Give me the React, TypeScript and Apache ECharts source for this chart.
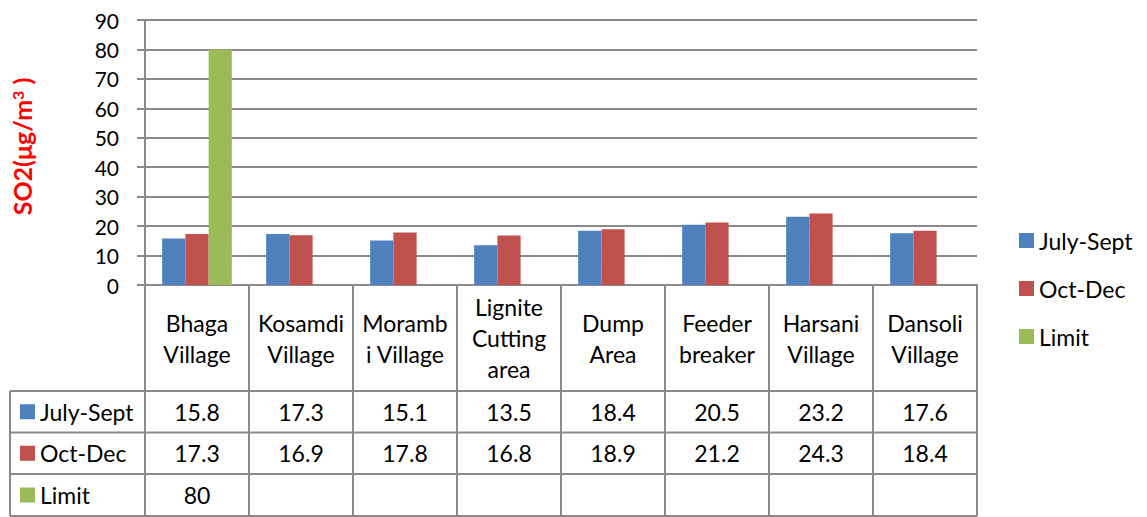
import React, { useEffect, useRef } from "react";
import * as echarts from "echarts";

const categories = [
  "Bhaga\nVillage",
  "Kosamdi\nVillage",
  "Moramb\ni Village",
  "Lignite\nCutting\narea",
  "Dump\nArea",
  "Feeder\nbreaker",
  "Harsani\nVillage",
  "Dansoli\nVillage",
];
const julySept = [15.8, 17.3, 15.1, 13.5, 18.4, 20.5, 23.2, 17.6];
const octDec = [17.3, 16.9, 17.8, 16.8, 18.9, 21.2, 24.3, 18.4];
const limit: (number | null)[] = [80, null, null, null, null, null, null, null];
const seriesNames = ["July-Sept", "Oct-Dec", "Limit"];
const seriesColors = ["#4F81BD", "#C0504D", "#9BBB59"];
const yTicks = { min: 0, max: 90, interval: 10 };

const FONT = "Lato, 'Open Sans', sans-serif";
const FS = 23;
const FSY = 21;
const LINE = "#8a8a8a";

export default function App() {
  const ref = useRef<HTMLDivElement>(null);
  useEffect(() => {
    document.body.style.margin = "0";
    const chart = echarts.init(ref.current!, null, { renderer: "svg" });
    const gridLeft = 145, gridTop = 20, gridRight = 977, gridBottom = 285;
    const tableRows = [391, 432.5, 474, 516];
    const allSeries = [julySept, octDec, limit];
    chart.setOption({
      animation: false,
      textStyle: { fontFamily: FONT },
      grid: { left: gridLeft, top: gridTop, width: gridRight - gridLeft, height: gridBottom - gridTop, show: false },
      legend: {
        orient: "vertical",
        left: 1019,
        top: 229,
        padding: 0,
        itemWidth: 15,
        itemHeight: 15,
        itemGap: 25,
        icon: "rect",
        textStyle: { fontSize: FS, color: "#000", fontFamily: FONT },
        data: seriesNames,
      },
      xAxis: {
        type: "category",
        data: categories,
        axisLine: { show: true, lineStyle: { color: LINE, width: 2 } },
        axisTick: { show: true, length: tableRows[3] - gridBottom, lineStyle: { color: LINE, width: 2 } },
        axisLabel: {
          interval: 0,
          fontSize: FS,
          color: "#000",
          fontFamily: FONT,
          lineHeight: 31,
          verticalAlign: "middle",
          margin: (tableRows[0] - gridBottom) / 2,
        },
      },
      yAxis: {
        type: "value",
        min: yTicks.min,
        max: yTicks.max,
        interval: yTicks.interval,
        name: "SO2(μg/m{sup|3} )",
        nameLocation: "middle",
        nameRotate: 90,
        nameGap: 111,
        nameTextStyle: {
          color: "#FF0000",
          fontWeight: "bold",
          fontSize: 25,
          fontFamily: FONT,
          padding: [0, 0, 0, 12],
          rich: {
            sup: { fontSize: 16, fontWeight: "bold", color: "#FF0000", verticalAlign: "top", fontFamily: FONT },
          },
        },
        axisLine: { show: true, lineStyle: { color: LINE, width: 2 } },
        axisTick: { show: true, length: 8, lineStyle: { color: LINE, width: 2 } },
        axisLabel: { fontSize: FSY, color: "#000", margin: 26, fontFamily: FONT },
        splitLine: { show: true, lineStyle: { color: LINE, width: 2 } },
      },
      series: allSeries.map((d, i) => ({
        name: seriesNames[i],
        type: "bar",
        data: d,
        barGap: "0%",
        barCategoryGap: "33%",
        itemStyle: { color: seriesColors[i] },
      })),
    });

    const graphic: any[] = [];
    tableRows.forEach((y) => {
      graphic.push({
        type: "line",
        shape: { x1: 10, y1: y, x2: gridRight, y2: y },
        style: { stroke: LINE, lineWidth: 2 },
        silent: true,
      });
    });
    graphic.push({
      type: "line",
      shape: { x1: 10, y1: tableRows[0], x2: 10, y2: tableRows[3] },
      style: { stroke: LINE, lineWidth: 2 },
    });
    seriesNames.forEach((n, r) => {
      const cy = (tableRows[r] + tableRows[r + 1]) / 2;
      graphic.push({ type: "rect", shape: { x: 20, y: cy - 7.5, width: 15, height: 15 }, style: { fill: seriesColors[r] } });
      graphic.push({
        type: "text",
        x: 40,
        y: cy,
        style: { text: n, fontSize: FS, fontFamily: FONT, fill: "#000", verticalAlign: "middle", align: "left" },
      });
      allSeries[r].forEach((v, c) => {
        if (v === null || v === undefined) return;
        const px = chart.convertToPixel({ xAxisIndex: 0 }, categories[c]) as number;
        graphic.push({
          type: "text",
          x: px,
          y: cy,
          style: { text: String(v), fontSize: FS, fontFamily: FONT, fill: "#000", verticalAlign: "middle", align: "center" },
        });
      });
    });
    chart.setOption({ graphic });
    return () => chart.dispose();
  }, []);
  return <div ref={ref} style={{ width: 1147, height: 517 }} />;
}
